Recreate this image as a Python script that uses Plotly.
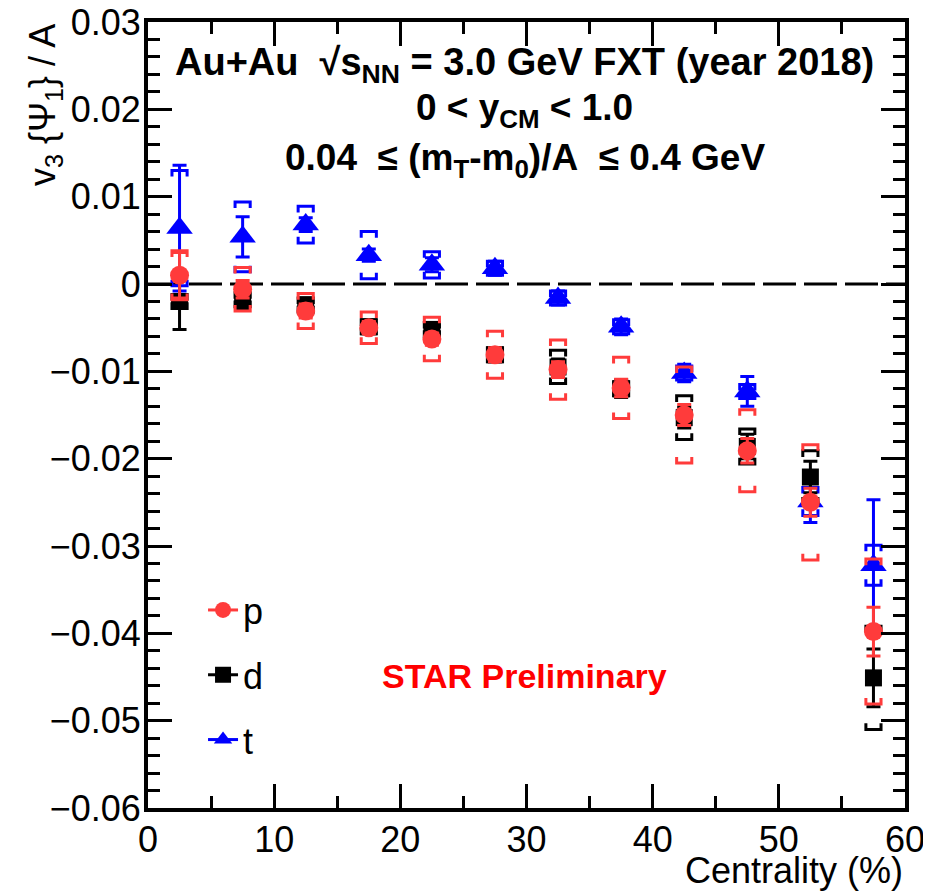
import plotly.graph_objects as go

# ---------------- data ----------------
centrality = [2.5, 7.5, 12.5, 17.5, 22.5, 27.5, 32.5, 37.5, 42.5, 47.5, 52.5, 57.5]

p_val  = [0.0010, -0.0006, -0.0031, -0.0050, -0.0063, -0.0081, -0.0098, -0.0119, -0.0150, -0.0191, -0.0250, -0.0398]
p_stat = [0.0026, 0.0010, 0.0008, 0.0007, 0.0007, 0.0008, 0.0009, 0.0010, 0.0012, 0.0014, 0.0016, 0.0028]
p_sys  = [0.0028, 0.0025, 0.0020, 0.0018, 0.0025, 0.0027, 0.0034, 0.0035, 0.0055, 0.0047, 0.0066, 0.0083]

d_val  = [-0.0020, -0.0018, -0.0024, -0.0049, -0.0052, -0.0081, -0.0095, -0.0120, -0.0153, -0.0186, -0.0221, -0.0451]
d_stat = [0.0032, 0.0010, 0.0008, 0.0007, 0.0008, 0.0008, 0.0009, 0.0010, 0.0012, 0.0014, 0.0018, 0.0033]
d_sys  = [0.0008, 0.0008, 0.0008, 0.0008, 0.0008, 0.0008, 0.0019, 0.0008, 0.0025, 0.0020, 0.0030, 0.0059]

t_val  = [0.0064, 0.0054, 0.0068, 0.0033, 0.0022, 0.0018, -0.0016, -0.0049, -0.0102, -0.0123, -0.0249, -0.0322]
t_stat = [0.0072, 0.0023, 0.0008, 0.0007, 0.0008, 0.0008, 0.0008, 0.0009, 0.0010, 0.0017, 0.0024, 0.0075]
t_sys  = [0.0066, 0.0040, 0.0021, 0.0027, 0.0015, 0.0008, 0.0008, 0.0008, 0.0008, 0.0008, 0.0016, 0.0023]

species = ["p", "d", "t"]
x_ticks = [0, 10, 20, 30, 40, 50, 60]

# ---------------- style ----------------
RED = "#ff3b3b"
BLACK = "#000000"
BLUE = "#0000ff"
FONT = "Liberation Sans, Arial, Helvetica, sans-serif"
BR_HW = 0.6       # half width of systematic bracket (x units)
BR_TICK = 0.0007  # bracket end-tick height (y units)


def brackets(xs, vals, syss):
    bx, by = [], []
    for x, v, s in zip(xs, vals, syss):
        top, bot = v + s, v - s
        bx += [x - BR_HW, x - BR_HW, x + BR_HW, x + BR_HW, None]
        by += [top - BR_TICK, top, top, top - BR_TICK, None]
        bx += [x - BR_HW, x - BR_HW, x + BR_HW, x + BR_HW, None]
        by += [bot + BR_TICK, bot, bot, bot + BR_TICK, None]
    return bx, by


fig = go.Figure()

series = [
    ("t", t_val, t_stat, t_sys, BLUE, "triangle-up", 23),
    ("d", d_val, d_stat, d_sys, BLACK, "square", 17),
    ("p", p_val, p_stat, p_sys, RED, "circle", 19),
]

for name, val, stat, sys, col, sym, size in series:
    bx, by = brackets(centrality, val, sys)
    fig.add_trace(go.Scatter(x=bx, y=by, mode="lines", line=dict(color=col, width=3),
                             showlegend=False, hoverinfo="skip"))
    fig.add_trace(go.Scatter(
        x=centrality, y=val, mode="markers", name=name, showlegend=False,
        marker=dict(symbol=sym, size=size, color=col, line=dict(width=0)),
        error_y=dict(type="data", array=stat, visible=True, color=col, thickness=3, width=7),
    ))

# legend entries
leg_style = {"p": (RED, "circle", 19), "d": (BLACK, "square", 17), "t": (BLUE, "triangle-up", 22)}
for name in species:
    col, sym, size = leg_style[name]
    fig.add_trace(go.Scatter(x=[None], y=[None], mode="lines+markers", name=name,
                             legendgroup=name,
                             line=dict(color=col, width=3),
                             marker=dict(symbol=sym, size=size, color=col)))

# zero dashed line
fig.add_shape(type="line", xref="x", yref="y", x0=0, x1=60, y0=0, y1=0,
              line=dict(color="black", width=3, dash="33px,8px"), layer="below")

axis_common = dict(showline=True, linewidth=4, linecolor="black", mirror="allticks",
                   ticks="inside", ticklen=24, tickwidth=3, tickcolor="black",
                   showgrid=False, zeroline=False, automargin=False,
                   ticklabeloverflow="allow",
                   tickfont=dict(family=FONT, size=36, color="black"))

fig.update_xaxes(range=[0, 60], tickvals=x_ticks, ticklabelstandoff=-3,
                 minor=dict(dtick=5, ticklen=12, tickwidth=3, ticks="inside", tickcolor="black", showgrid=False),
                 **axis_common)
fig.update_yaxes(range=[-0.06, 0.03], dtick=0.01, tick0=0, ticklabelstandoff=-4,
                 minor=dict(dtick=0.002, ticklen=12, tickwidth=3, ticks="inside", tickcolor="black", showgrid=False),
                 **axis_common)

ann_font = dict(family=FONT, size=37, color="black")
fig.add_annotation(xref="paper", yref="paper", x=0.498, y=0.945, showarrow=False,
                   text="<b>Au+Au&nbsp;&nbsp;√s<sub>NN</sub> = 3.0 GeV FXT (year 2018)</b>",
                   font=dict(family=FONT, size=38, color="black"), xanchor="center", yanchor="middle")
fig.add_annotation(xref="paper", yref="paper", x=0.498, y=0.888, showarrow=False,
                   text="<b>0 &lt; y<sub>CM</sub> &lt; 1.0</b>",
                   font=ann_font, xanchor="center", yanchor="middle")
fig.add_annotation(xref="paper", yref="paper", x=0.498, y=0.824, showarrow=False,
                   text="<b>0.04&nbsp;&nbsp;≤ (m<sub>T</sub>-m<sub>0</sub>)/A&nbsp;&nbsp;≤ 0.4 GeV</b>",
                   font=ann_font, xanchor="center", yanchor="middle")
fig.add_annotation(xref="paper", yref="paper", x=0.498, y=0.168, showarrow=False,
                   text="<b>STAR Preliminary</b>",
                   font=dict(family=FONT, size=34, color="#ff0000"), xanchor="center", yanchor="middle")
# axis titles
fig.add_annotation(xref="paper", yref="paper", x=-0.136, y=1.0, showarrow=False,
                   text="v<sub>3</sub> {Ψ<sub>1</sub>} / A", textangle=-90,
                   font=dict(family=FONT, size=36, color="black"), xanchor="center", yanchor="top")
fig.add_annotation(xref="paper", yref="paper", x=1.0, y=-0.080, showarrow=False,
                   text="Centrality (%)",
                   font=dict(family=FONT, size=36, color="black"), xanchor="right", yanchor="middle")

# page body has an 8px default margin -> figure offset by 8px, so it is 8px smaller
fig.update_layout(
    template="none",
    width=923, height=884,
    margin=dict(l=140, r=26, t=14, b=84, pad=0),
    paper_bgcolor="white", plot_bgcolor="white",
    font=dict(family=FONT, color="black"),
    showlegend=True,
    legend=dict(x=0.0727, y=0.290, xanchor="left", yanchor="top",
                font=dict(family=FONT, size=36, color="black"),
                bgcolor="rgba(0,0,0,0)", borderwidth=0,
                traceorder="grouped", tracegroupgap=15,
                itemsizing="trace"),
)

fig.write_html("out.html")
